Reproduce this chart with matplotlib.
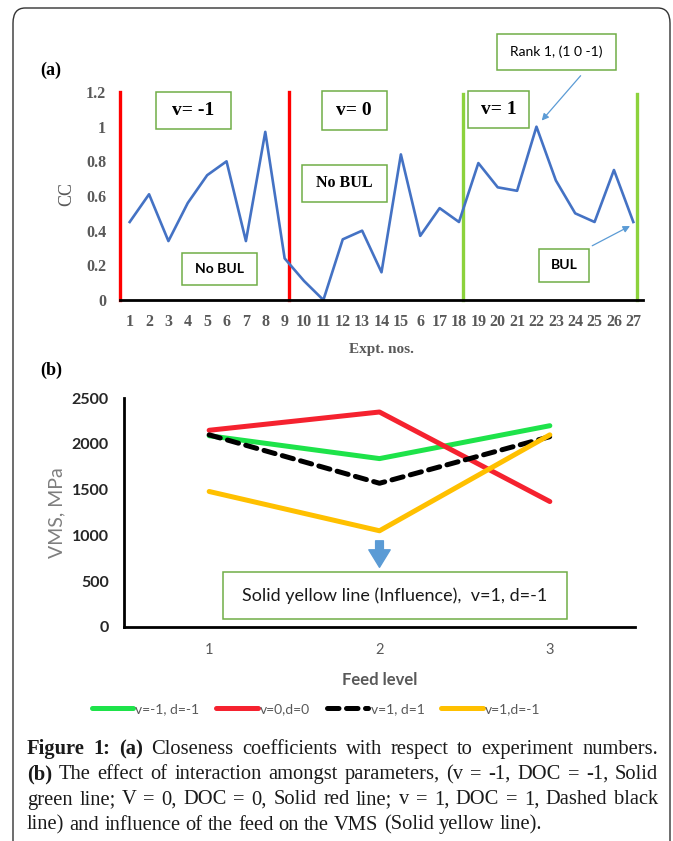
import matplotlib.pyplot as plt
from matplotlib.patches import Rectangle, FancyBboxPatch
from matplotlib.lines import Line2D

# === Panel (a): closeness coefficients per experiment ===
expt_nos = list(range(1, 28))
expt_labels = ['1', '2', '3', '4', '5', '6', '7', '8', '9', '10', '11', '12', '13',
               '14', '15', '6', '17', '18', '19', '20', '21', '22', '23', '24', '25',
               '26', '27']
cc_values = [0.45, 0.61, 0.34, 0.56, 0.72, 0.80, 0.34, 0.97, 0.24, 0.11, 0.00,
             0.35, 0.40, 0.16, 0.84, 0.37, 0.53, 0.45, 0.79, 0.65, 0.63, 1.00,
             0.69, 0.50, 0.45, 0.75, 0.45]
red_bounds = [0.52, 9.2]
green_bounds = [18.2, 27.2]

# === Panel (b): VMS vs feed level ===
feed_levels = [1, 2, 3]
vms_green = [2090, 1840, 2200]
vms_red = [2150, 2350, 1370]
vms_black = [2100, 1570, 2080]
vms_yellow = [1480, 1050, 2100]
legend_labels = ['v=-1, d=-1', 'v=0,d=0', 'v=1, d=1', 'v=1,d=-1']

caption_lines = [
    "Figure 1: (a) Closeness coefficients with respect to experiment numbers.",
    "(b) The effect of interaction amongst parameters, (v = -1, DOC = -1, Solid",
    "green line; V = 0, DOC = 0, Solid red line; v = 1, DOC = 1, Dashed black",
    "line) and influence of the feed on the VMS (Solid yellow line).",
]
bold_words = {'Figure', '1:', '(a)', '(b)'}

SERIF = 'Liberation Serif'
SANS = 'Lato'
GRAY = '#595959'
BOXGREEN = '#70ad47'
ARROWBLUE = '#5b9bd5'

W, H = 673, 841
fig = plt.figure(figsize=(W / 100, H / 100), dpi=100)


def px_axes(x0, x1, ytop, ybot):
    return fig.add_axes([x0 / W, 1 - ybot / H, (x1 - x0) / W, (ybot - ytop) / H])


# outer rounded frame (runs off the bottom of the page)
frame = FancyBboxPatch((13 / W, -0.05), 657 / W, 1 - 8 / H + 0.05,
                       boxstyle='round,pad=0,rounding_size=0.018',
                       transform=fig.transFigure, fill=False,
                       edgecolor='#333333', linewidth=1.0)
fig.patches.append(frame)

# -------------------------------------------------------------------------
# PANEL (a)
# -------------------------------------------------------------------------
ax1 = px_axes(120, 643, 92, 300)
ax1.plot(expt_nos, cc_values, color='#4472c4', linewidth=1.9, zorder=3)
for b in red_bounds:
    ax1.plot([b, b], [0, 1.2], color='#ff0000', linewidth=2.4, zorder=2,
             clip_on=False)
for b in green_bounds:
    ax1.plot([b, b], [0, 1.19], color='#8cd23c', linewidth=2.4, zorder=2,
             clip_on=False)

ax1.set_xlim(0.5, 27.5)
ax1.set_ylim(0, 1.2)
ax1.set_xticks(expt_nos)
ax1.set_xticklabels(expt_labels)
ax1.set_yticks([0, 0.2, 0.4, 0.6, 0.8, 1.0, 1.2])
ax1.set_yticklabels(['0', '0.2', '0.4', '0.6', '0.8', '1', '1.2'])
for s in ['top', 'right', 'left']:
    ax1.spines[s].set_visible(False)
ax1.spines['bottom'].set_linewidth(2.0)
ax1.spines['bottom'].set_zorder(4)
ax1.tick_params(length=0, labelsize=11.5, labelcolor=GRAY)
ax1.tick_params(axis='y', pad=10)
ax1.tick_params(axis='x', pad=10)
for lab in ax1.get_xticklabels() + ax1.get_yticklabels():
    lab.set_fontfamily(SERIF)
    lab.set_fontweight('bold')
ax1.set_ylabel('CC', fontfamily=SERIF, fontsize=13, color=GRAY)
ax1.yaxis.set_label_coords(-0.085, 0.51)
ax1.set_xlabel('Expt. nos.', fontfamily=SERIF, fontsize=11, color=GRAY,
               fontweight='bold')
ax1.xaxis.set_label_coords(0.50, -0.205)
ax1.patch.set_visible(False)


def box_text(ax, x0, x1, y0, y1, text, **kw):
    ax.add_patch(Rectangle((x0, y0), x1 - x0, y1 - y0, facecolor='white',
                           edgecolor=BOXGREEN, linewidth=1.1, zorder=5,
                           clip_on=False))
    ax.text((x0 + x1) / 2, (y0 + y1) / 2, text, ha='center', va='center',
            zorder=6, clip_on=False, **kw)


box_text(ax1, 2.34, 6.23, 0.985, 1.198, 'v= -1', fontfamily=SERIF,
         fontweight='bold', fontsize=14)
box_text(ax1, 10.91, 14.28, 0.981, 1.205, 'v= 0', fontfamily=SERIF,
         fontweight='bold', fontsize=14)
box_text(ax1, 18.45, 21.62, 0.995, 1.205, 'v= 1', fontfamily=SERIF,
         fontweight='bold', fontsize=14)
box_text(ax1, 9.91, 14.3, 0.567, 0.779, 'No BUL', fontfamily=SERIF,
         fontweight='bold', fontsize=11.5)
box_text(ax1, 3.69, 7.56, 0.087, 0.269, 'No BUL', fontfamily=SANS,
         fontweight='bold', fontsize=10)
box_text(ax1, 22.13, 24.71, 0.106, 0.294, 'BUL', fontfamily=SANS,
         fontweight='bold', fontsize=10)
box_text(ax1, 19.95, 26.09, 1.327, 1.535, 'Rank 1, (1 0 -1)', fontfamily=SANS,
         fontsize=10)

ax1.annotate('', xy=(22.27, 1.035), xytext=(24.28, 1.294),
             arrowprops=dict(arrowstyle='-|>', color=ARROWBLUE, lw=0.9,
                             mutation_scale=10, shrinkA=0, shrinkB=0),
             annotation_clip=False)
ax1.annotate('', xy=(26.83, 0.427), xytext=(24.88, 0.313),
             arrowprops=dict(arrowstyle='-|>', color=ARROWBLUE, lw=0.9,
                             mutation_scale=10, shrinkA=0, shrinkB=0),
             annotation_clip=False)

fig.text(40 / W, 1 - 70 / H, '(a)', fontfamily=SERIF, fontweight='bold',
         fontsize=13, va='center')

# -------------------------------------------------------------------------
# PANEL (b)
# -------------------------------------------------------------------------
ax2 = px_axes(124, 635, 398.3, 626.7)
lw = 3.6
l_g, = ax2.plot(feed_levels, vms_green, color='#1ee34a', linewidth=lw,
                solid_capstyle='round')
l_r, = ax2.plot(feed_levels, vms_red, color='#f5222f', linewidth=lw,
                solid_capstyle='round')
l_k, = ax2.plot(feed_levels, vms_black, color='black', linewidth=lw,
                linestyle=(0, (2.3, 1.5)), dash_capstyle='round')
l_y, = ax2.plot(feed_levels, vms_yellow, color='#ffc000', linewidth=lw,
                solid_capstyle='round')

ax2.set_xlim(0.5, 3.5)
ax2.set_ylim(0, 2500)
ax2.set_xticks(feed_levels)
ax2.set_yticks([0, 500, 1000, 1500, 2000, 2500])
for s in ['top', 'right']:
    ax2.spines[s].set_visible(False)
for s in ['left', 'bottom']:
    ax2.spines[s].set_linewidth(2.0)
ax2.tick_params(length=0)
ax2.tick_params(axis='y', pad=11, labelsize=11.5, labelcolor='#262626')
ax2.tick_params(axis='x', pad=12, labelsize=10.5, labelcolor=GRAY)
for lab in ax2.get_yticklabels():
    lab.set_fontfamily(SANS)
    lab.set_fontweight('bold')
for lab in ax2.get_xticklabels():
    lab.set_fontfamily(SANS)
ax2.set_ylabel('VMS, MPa', fontfamily=SANS, fontsize=14, color='#7f7f7f')
ax2.yaxis.set_label_coords(-0.115, 0.50)
ax2.set_xlabel('Feed level', fontfamily=SANS, fontsize=12, color=GRAY,
               fontweight='bold')
ax2.xaxis.set_label_coords(0.50, -0.20)
ax2.patch.set_visible(False)

box_text(ax2, 1.08, 3.098, 81, 602, 'Solid yellow line (Influence),  v=1, d=-1',
         fontfamily=SANS, fontsize=13, color='#1a1a1a')
ax2.annotate('', xy=(2, 650), xytext=(2, 940),
             arrowprops=dict(arrowstyle='simple,head_width=1.1,head_length=0.9,'
                                        'tail_width=0.4',
                             color=ARROWBLUE, mutation_scale=14,
                             shrinkA=0, shrinkB=0))

fig.text(40 / W, 1 - 370 / H, '(b)', fontfamily=SERIF, fontweight='bold',
         fontsize=13, va='center')

handles = [
    Line2D([], [], color='#1ee34a', linewidth=lw, solid_capstyle='round'),
    Line2D([], [], color='#f5222f', linewidth=lw, solid_capstyle='round'),
    Line2D([], [], color='black', linewidth=lw, linestyle=(0, (2.3, 1.5)),
           dash_capstyle='round'),
    Line2D([], [], color='#ffc000', linewidth=lw, solid_capstyle='round'),
]
leg = fig.legend(handles, legend_labels, loc='center',
                 bbox_to_anchor=(316 / W, 1 - 709 / H), ncol=4, frameon=False,
                 handlelength=3.0, handletextpad=0.15, columnspacing=1.2,
                 prop={'family': SANS, 'size': 10})
for t in leg.get_texts():
    t.set_color(GRAY)

# -------------------------------------------------------------------------
# CAPTION (justified, word by word)
# -------------------------------------------------------------------------
renderer = fig.canvas.get_renderer()
cap_x0, cap_x1 = 27, 658
cap_base = [754, 779, 804.5, 829.5]
cap_size = 14.8
space_px = 0.25 * cap_size * 100 / 72

for i, line in enumerate(caption_lines):
    words = line.split(' ')
    texts = []
    for w in words:
        t = fig.text(0, 1 - cap_base[i] / H, w, fontfamily=SERIF,
                     fontsize=cap_size,
                     fontweight='bold' if w in bold_words else 'normal',
                     va='baseline', ha='left', color='#1a1a1a')
        texts.append(t)
    widths = [t.get_window_extent(renderer).width for t in texts]
    if i < len(caption_lines) - 1:
        gap = (cap_x1 - cap_x0 - sum(widths)) / (len(words) - 1)
    else:
        gap = space_px
    x = cap_x0
    for t, wd in zip(texts, widths):
        t.set_x(x / W)
        x += wd + gap

fig.savefig('out.png', dpi=100)
